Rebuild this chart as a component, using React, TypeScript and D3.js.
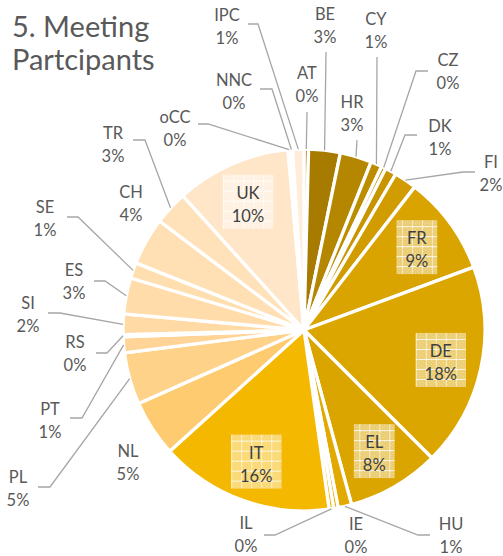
import React from 'react';
import * as d3 from 'd3';

// ---------- data ----------
const categories = ['AT', 'BE', 'HR', 'CY', 'CZ', 'DK', 'FI', 'FR', 'DE', 'EL', 'HU', 'IE', 'IL', 'IT', 'NL', 'PL', 'PT', 'RS', 'SI', 'ES', 'SE', 'CH', 'TR', 'UK', 'oCC', 'NNC', 'IPC'];
const participants = [2, 14, 14, 5, 2, 5, 10, 44, 90, 41, 6, 2, 2, 77, 25, 23, 7, 1, 9, 16, 7, 21, 15, 51, 1, 1, 5];
const titleLines = ['5. Meeting', 'Partcipants'];
const insideLabelCats = ['FR', 'DE', 'EL', 'IT', 'UK'];

// ---------- styles ----------
const sliceColors = [
  '#A07800', '#A67B00', '#B58700', '#BD8D00', '#C39100', '#C89500', '#D09C00',
  '#D9A300', '#DCA600', '#DBA500', '#E2AA00', '#E8AF00', '#EEB300', '#F5B800',
  '#FECB70', '#FFD28A', '#FFD496', '#FFD8A0', '#FFDAA5', '#FFDCAA', '#FFDEAF',
  '#FFE0B4', '#FFE2BA', '#FFE6C8', '#FFE9D0', '#FFEBD5', '#FFEDDA',
];

// ---------- layout of outside labels (label centre, leader line points) ----------
type Pt = [number, number];
const outsideLayout: Record<string, { x: number; y: number; leader?: Pt[] }> = {
  AT: { x: 307, y: 73, leader: [[307, 112]] },
  BE: { x: 325, y: 14, leader: [[326, 52]] },
  HR: { x: 352, y: 102, leader: [[357, 140]] },
  CY: { x: 376, y: 19, leader: [[377, 57]] },
  CZ: { x: 448, y: 60, leader: [[416, 71], [428, 71]] },
  DK: { x: 440, y: 126, leader: [[405, 135], [417, 135]] },
  FI: { x: 491, y: 162, leader: [[463, 172], [475, 172]] },
  HU: { x: 451, y: 524, leader: [[418, 535], [430, 535]] },
  IE: { x: 356, y: 524 },
  IL: { x: 246, y: 523, leader: [[275, 535], [264, 535]] },
  NL: { x: 128, y: 451 },
  PL: { x: 18, y: 477, leader: [[50, 487], [38, 487]] },
  PT: { x: 50, y: 409, leader: [[82, 418], [70, 418]] },
  RS: { x: 75, y: 342, leader: [[107, 353], [96, 353]] },
  SI: { x: 28, y: 303, leader: [[60, 313], [48, 313]] },
  ES: { x: 74, y: 270, leader: [[105, 281], [94, 281]] },
  SE: { x: 45, y: 207, leader: [[78, 217], [67, 217]] },
  CH: { x: 131, y: 192 },
  TR: { x: 113, y: 133, leader: [[145, 140], [133, 140]] },
  oCC: { x: 175, y: 117, leader: [[208, 124], [198, 124]] },
  NNC: { x: 234, y: 80, leader: [[272, 89], [260, 89]] },
  IPC: { x: 227, y: 15, leader: [[258, 24], [248, 24]] },
};

const W = 503;
const H = 556;
const CX = 304;
const CY = 330;
const R = 181;
const FONT = 'Lato, "Open Sans", sans-serif';

function measure(text: string, size: number): number {
  if (typeof document === 'undefined') return text.length * size * 0.55;
  const c = document.createElement('canvas');
  const ctx = c.getContext('2d');
  if (!ctx) return text.length * size * 0.55;
  ctx.font = `${size}px Lato`;
  return ctx.measureText(text).width;
}

export default function App() {
  const total = d3.sum(participants);
  const data = categories.map((c, i) => ({ cat: c, value: participants[i], i }));
  const pie = d3.pie<any>().value((d: any) => d.value).sort(null).startAngle(0).endAngle(2 * Math.PI);
  const arcs = pie(data);
  const arcGen = d3.arc<any>().innerRadius(0).outerRadius(R);
  const edgeArc = d3.arc<any>().innerRadius(R).outerRadius(R);
  const insideArc = d3.arc<any>().innerRadius(140).outerRadius(140);
  const pct = (v: number) => `${Math.round((v / total) * 100)}%`;
  const line = d3.line();

  return (
    <svg width={W} height={H} style={{ position: 'absolute', left: 0, top: 0, background: '#fff' }} fontFamily={FONT}>
      <defs>
        {arcs
          .filter((a) => insideLabelCats.includes(a.data.cat))
          .map((a) => {
            const [lx, ly] = insideArc.centroid(a);
            return (
              <pattern key={a.data.cat} id={`pat-${a.data.cat}`} patternUnits="userSpaceOnUse" width={10} height={10} x={lx} y={ly}>
                <rect width={10} height={10} fill="#fff" opacity={0.45} />
                <rect x={0} y={0} width={1} height={1} fill="#fff" opacity={0.35} />
                <rect x={2} y={2} width={1} height={1} fill="#fff" opacity={0.35} />
                <rect x={4} y={0} width={1} height={1} fill="#fff" opacity={0.35} />
                <rect x={6} y={2} width={1} height={1} fill="#fff" opacity={0.35} />
                <rect x={0} y={4} width={1} height={1} fill="#fff" opacity={0.35} />
                <rect x={4} y={4} width={1} height={1} fill="#fff" opacity={0.35} />
                <rect x={2} y={6} width={1} height={1} fill="#fff" opacity={0.35} />
                <rect x={6} y={6} width={1} height={1} fill="#fff" opacity={0.35} />
                <line x1={0} x2={10} y1={9.5} y2={9.5} stroke="#fff" strokeOpacity={0.8} strokeWidth={1} />
                <line x1={9.5} x2={9.5} y1={0} y2={10} stroke="#fff" strokeOpacity={0.6} strokeWidth={1} />
              </pattern>
            );
          })}
      </defs>

      {titleLines.map((t, i) => (
        <text key={t} x={12} y={37 + i * 33} fontSize={29} fill="#595959">
          {t}
        </text>
      ))}

      <g transform={`translate(${CX},${CY})`}>
        {arcs.map((a) => (
          <path key={a.data.cat} d={arcGen(a) || ''} fill={sliceColors[a.data.i]} stroke="#fff" strokeWidth={3.3} strokeLinejoin="round" />
        ))}
      </g>

      {/* leader lines */}
      {arcs.map((a) => {
        const lay = outsideLayout[a.data.cat];
        if (!lay || !lay.leader) return null;
        const [ex, ey] = edgeArc.centroid(a);
        const pts: Pt[] = [[ex + CX, ey + CY], ...lay.leader];
        return <path key={`l-${a.data.cat}`} d={line(pts) || ''} fill="none" stroke="#A6A6A6" strokeWidth={1.3} />;
      })}

      {/* outside labels */}
      {arcs.map((a) => {
        const lay = outsideLayout[a.data.cat];
        if (!lay) return null;
        return (
          <g key={`t-${a.data.cat}`} fill="#595959" fontSize={16.5} textAnchor="middle">
            <text x={lay.x} y={lay.y + 6}>{a.data.cat}</text>
            <text x={lay.x} y={lay.y + 29}>{pct(a.data.value)}</text>
          </g>
        );
      })}

      {/* inside labels */}
      {arcs
        .filter((a) => insideLabelCats.includes(a.data.cat))
        .map((a) => {
          const [lx, ly] = insideArc.centroid(a);
          const x = lx + CX;
          const y = ly + CY;
          const p = pct(a.data.value);
          const w = Math.max(measure(a.data.cat, 16.5), measure(p, 16.5)) + 18;
          return (
            <g key={`in-${a.data.cat}`}>
              <rect x={x - w / 2} y={y - 27} width={w} height={54} fill={`url(#pat-${a.data.cat})`} />
              <text x={x} y={y - 3} fontSize={16.5} fill="#404040" textAnchor="middle">{a.data.cat}</text>
              <text x={x} y={y + 20} fontSize={16.5} fill="#404040" textAnchor="middle">{p}</text>
            </g>
          );
        })}
    </svg>
  );
}
